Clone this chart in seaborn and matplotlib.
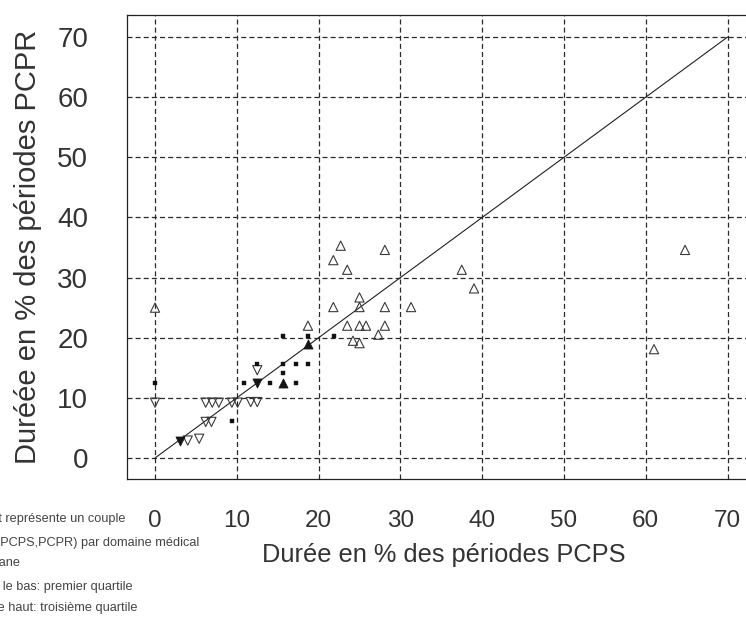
import matplotlib
matplotlib.use("Agg")
import matplotlib.pyplot as plt
import seaborn as sns

# Médianes par domaine médical (PCPS, PCPR)
med_x = [0, 9.45, 10.9, 14.1, 17.2, 12.5, 15.6, 15.6, 17.2, 18.7, 15.6, 18.7, 21.9]
med_y = [12.4, 6.1, 12.4, 12.4, 12.4, 15.6, 15.6, 14.1, 15.6, 15.6, 20.3, 20.3, 20.3]

# Premiers quartiles (triangle pointe vers le bas)
q1_x = [0, 6.2, 7.0, 7.8, 9.4, 10.1, 11.7, 12.5, 6.2, 6.9, 4.0, 5.4, 12.5]
q1_y = [9.2, 9.2, 9.2, 9.2, 9.2, 9.2, 9.3, 9.3, 6.0, 6.0, 2.9, 3.2, 14.6]

# Troisièmes quartiles (triangle pointe vers le haut)
q3_x = [0, 18.7, 21.8, 22.7, 23.5, 28.1, 25.0, 21.8, 25.0, 28.1, 31.3, 23.5,
        25.0, 25.8, 28.1, 27.3, 24.2, 25.0, 37.5, 39.0, 64.8, 61.0]
q3_y = [25.0, 22.0, 32.9, 35.3, 31.3, 34.6, 26.7, 25.1, 25.1, 25.1, 25.1, 22.0,
        22.0, 22.0, 22.0, 20.5, 19.5, 19.1, 31.3, 28.2, 34.6, 18.1]

# Quartiles confondus avec la médiane (symboles pleins)
qdown_full_x = [3.1, 12.5]
qdown_full_y = [2.9, 12.4]
qup_full_x = [15.6, 18.7]
qup_full_y = [12.5, 18.9]

# Première bissectrice
diag = [0, 70]
ticks = [0, 10, 20, 30, 40, 50, 60, 70]

notes = [
    "Chaque point représente un couple",
    "(PCPS,PCPR) par domaine médical",
    "Point: médiane",
    "Triangle vers le bas: premier quartile",
    "Triangle vers le haut: troisième quartile",
]

sns.set_style("white")
plt.rcParams["font.family"] = ["Liberation Sans", "DejaVu Sans"]

W, H = 746, 625
fig = plt.figure(figsize=(W / 100, H / 100), dpi=100)
left_px, right_px, top_px, bottom_px = 127, 760, 15, 479
ax = fig.add_axes([left_px / W, 1 - bottom_px / H,
                   (right_px - left_px) / W, (bottom_px - top_px) / H])

x0_px, xs = 155, 8.18
y0_px, ys = 458, 421 / 70
ax.set_xlim((left_px - x0_px) / xs, (right_px - x0_px) / xs)
ax.set_ylim(-(bottom_px - y0_px) / ys, (y0_px - top_px) / ys)

ax.set_axisbelow(True)
ax.grid(True, linestyle=(0, (4, 2.5)), color="#2a2a2a", linewidth=0.9)

ax.plot(diag, diag, color="#222222", linewidth=0.8, zorder=2)

open_kw = dict(s=44, facecolor="none", edgecolor="#3a3a3a", linewidth=0.8, zorder=3)
sns.scatterplot(x=q3_x, y=q3_y, marker="^", ax=ax, **open_kw)
sns.scatterplot(x=q1_x, y=q1_y, marker="v", ax=ax, **open_kw)
sns.scatterplot(x=med_x, y=med_y, marker="s", s=9, color="#111111",
                edgecolor="#111111", linewidth=0.3, ax=ax, zorder=4)
full_kw = dict(s=42, color="#151515", edgecolor="#151515", linewidth=0.6, zorder=4)
sns.scatterplot(x=qup_full_x, y=qup_full_y, marker="^", ax=ax, **full_kw)
sns.scatterplot(x=qdown_full_x, y=qdown_full_y, marker="v", ax=ax, **full_kw)

ax.set_xticks(ticks)
ax.set_yticks(ticks)
ax.set_xticklabels([str(t) for t in ticks])
ax.set_yticklabels([str(t) for t in ticks])
ax.tick_params(axis="x", direction="out", length=11.5, width=0.8, pad=10.5,
               labelsize=17.5, labelcolor="#333333", color="#222222")
ax.tick_params(axis="y", direction="out", length=17, width=0.8, pad=11,
               labelsize=20, labelcolor="#333333", color="#222222")

for side in ["left", "bottom", "top", "right"]:
    ax.spines[side].set_visible(True)
    ax.spines[side].set_color("#222222")
    ax.spines[side].set_linewidth(0.9)

ax.set_xlabel("Durée en % des périodes PCPS", fontsize=18.3, color="#333333",
              labelpad=8)
ax.set_ylabel("Duréée en % des périodes PCPR", fontsize=21, color="#333333",
              labelpad=11)

# Texte explicatif en bas à gauche
ends_px = [125, 199, 20, 133, 137]
rows_px = [519, 543, 563, 587, 608]
for txt, xe, yr in zip(notes, ends_px, rows_px):
    fig.text(xe / W, 1 - yr / H, txt, ha="right", va="center",
             fontsize=9.2, color="#444444")

fig.savefig("out.png", dpi=100)
